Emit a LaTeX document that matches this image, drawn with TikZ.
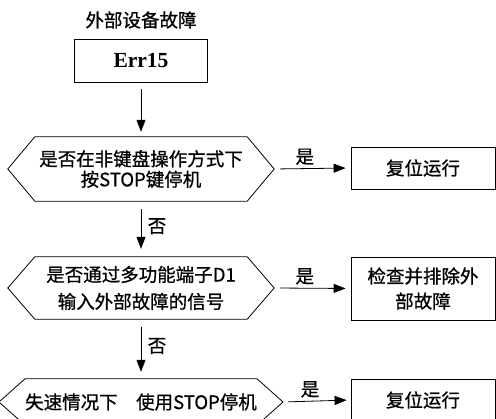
\documentclass[tikz,border=0pt]{standalone}
\usepackage{fontspec}
\setmainfont{Noto Sans CJK SC}[FakeBold=0.8]
\newfontfamily\seriftimes{Liberation Serif}
\usetikzlibrary{arrows.meta}

% contour hexagonal autour d'un noeud texte
\newcommand{\Hexagone}[2]{%
	\draw[trait] (#1.north west) -- (#1.north east) -- ([xshift=#2]#1.east) -- (#1.south east)
		-- (#1.south west) -- ([xshift=-#2]#1.west) -- cycle;
	\coordinate (#1d) at ([xshift=#2]#1.east);}

\begin{document}
\begin{tikzpicture}[x=1pt,y=-1pt]
			% Styles
			\tikzstyle{trait}=[line width=0.8pt]
			\tikzstyle{fleche}=[-{Triangle[length=12pt,width=9pt]},line width=0.8pt]
			\tikzstyle{texte}=[font=\fontsize{18.5}{22}\selectfont]
			\tikzstyle{boite}=[draw,trait,texte,align=center,minimum width=144pt,minimum height=42pt]
			\tikzstyle{question}=[texte,align=center,inner sep=0pt,minimum width=212pt]
			% Dimensions
			\def\ColonneA{141}
			\def\ColonneB{423}
			\def\NiveauTitre{20}
			\def\NiveauErr{61}
			\def\NiveauA{169}
			\def\NiveauB{288}
			\def\NiveauC{402}
			\useasboundingbox (0,0) rectangle (496,419);
			\clip (0,0) rectangle (496,419);
			% Noeuds
			\node[texte] (titre) at (\ColonneA,\NiveauTitre) {外部设备故障};
			\node[draw,trait,minimum width=133pt,minimum height=43pt,
				font=\seriftimes\bfseries\fontsize{21.5}{24}\selectfont] (err) at (\ColonneA,\NiveauErr) {Err15};
			%
			\node[question,minimum height=64pt,font=\fontsize{18.5}{20.5}\selectfont] (Q1) at (\ColonneA,\NiveauA)
				{是否在非键盘操作方式下\\按STOP键停机};
			\node[question,minimum height=62pt,font=\fontsize{18.5}{27}\selectfont] (Q2) at (\ColonneA,\NiveauB)
				{是否通过多功能端子D1\\输入外部故障的信号};
			\node[question,minimum height=46pt,minimum width=214pt] (Q3) at (\ColonneA,\NiveauC)
				{失速情况下　使用STOP停机};
			\Hexagone{Q1}{27pt}
			\Hexagone{Q2}{27pt}
			\Hexagone{Q3}{26pt}
			%
			\node[boite] (R1) at (\ColonneB,168) {复位运行};
			\node[boite,minimum height=63pt,font=\fontsize{18.5}{25}\selectfont] (R2) at (\ColonneB,288.5) {检查并排除外\\部故障};
			\node[boite] (R3) at (\ColonneB,400) {复位运行};
			% Arcs
			\draw[fleche,shorten <=6pt,shorten >=5pt] (err.south)--(Q1.north);
			\draw[fleche,shorten <=6pt,shorten >=5pt] (Q1d)--(R1.west) node[texte,pos=0.4,above]{是};
			\draw[fleche,shorten <=8pt,shorten >=8pt] (Q1.south)--(Q2.north) node[texte,pos=0.45,right,xshift=3pt]{否};
			\draw[fleche,shorten <=6pt,shorten >=5pt] (Q2d)--(R2.west) node[texte,pos=0.4,above]{是};
			\draw[fleche,shorten <=8pt,shorten >=7pt] (Q2.south)--(Q3.north) node[texte,pos=0.45,right,xshift=3pt]{否};
			\draw[fleche,shorten <=5pt,shorten >=4pt] (Q3d)--(R3.west) node[texte,pos=0.4,above]{是};
		\end{tikzpicture}
\end{document}
